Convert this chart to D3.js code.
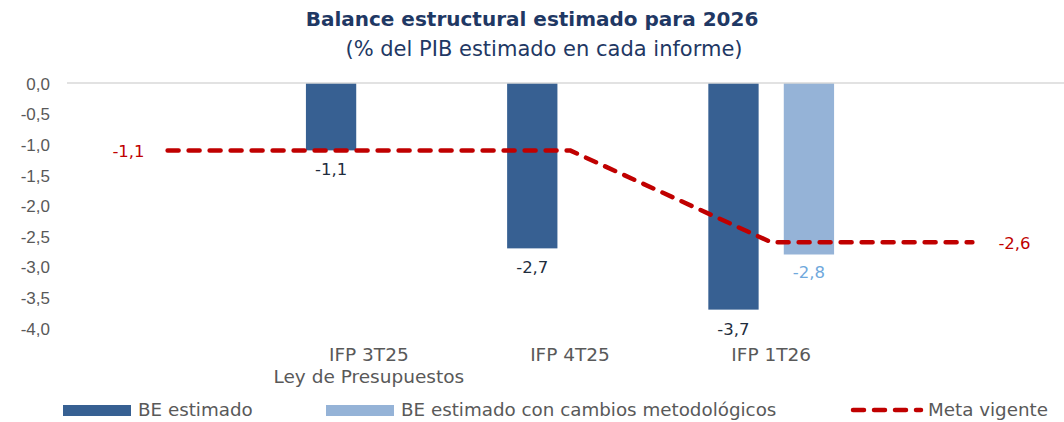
<!DOCTYPE html>
<html lang="es">
	<head>
		<meta charset="utf-8">
		<title>Balance estructural estimado para 2026</title>
		<script type="text/javascript" src="https://cdn.jsdelivr.net/npm/d3@7"></script>
		<style type="text/css">

body {
  margin: 0;
  background: #fff;
  font-family: "DejaVu Sans", Verdana, sans-serif;
}

.title {
  font-size: 20px;
  font-weight: bold;
  fill: #1f3864;
}

.subtitle {
  font-size: 21px;
  fill: #1f3864;
}

.tick_label {
  font-size: 17px;
  fill: #595959;
}

.cat_label {
  font-size: 18.5px;
  fill: #595959;
}

.legend_labels {
  font-size: 18.3px;
  fill: #595959;
}

.data_label {
  font-size: 16.5px;
}

		</style>
	</head>
	<body>
		<script type="text/javascript">

			// categories (first and last are empty slots used by the target line)
			var categories = ["", "IFP 3T25", "IFP 4T25", "IFP 1T26", ""];
			var subLabels = ["", "Ley de Presupuestos", "", "", ""];

			// series values (% del PIB)
			var beEstimado = [null, -1.1, -2.7, -3.7, null];
			var beCambios = [null, null, null, -2.8, null];
			var metaVigente = [-1.1, -1.1, -1.1, -2.6, -2.6];

			var yTicks = [0, -0.5, -1, -1.5, -2, -2.5, -3, -3.5, -4];

			var seriesNames = ["BE estimado", "BE estimado con cambios metodológicos", "Meta vigente"];

			var colors_codes = {
				"be": "#376092",
				"bem": "#95b3d7",
				"meta": "#c00000"
			};

			var W = 1064, H = 422;

			var locale = d3.formatLocale({decimal: ",", thousands: ".", grouping: [3], currency: ["", ""], minus: "-"});
			var fmt = locale.format(".1f");

			var svg = d3.select("body")
				.append("svg")
					.attr("width", W)
					.attr("height", H);

			// scales
			var xScale = d3.scaleBand()
				.domain(d3.range(categories.length))
				.range([67, 1073])
				.padding(0);

			var xInner = d3.scaleBand()
				.domain(["be", "bem"])
				.range([0, xScale.bandwidth()])
				.paddingInner(1 / 3)
				.paddingOuter(0.5);

			var yScale = d3.scaleLinear()
				.domain([0, -4])
				.range([83, 328]);

			// title
			svg.append("text")
				.attr("class", "title")
				.attr("x", 532)
				.attr("y", 26)
				.attr("text-anchor", "middle")
				.text("Balance estructural estimado para 2026");

			svg.append("text")
				.attr("class", "subtitle")
				.attr("x", 544)
				.attr("y", 56)
				.attr("text-anchor", "middle")
				.text("(% del PIB estimado en cada informe)");

			// y axis labels (no axis line, only labels)
			var yAxis = d3.axisLeft(yScale)
				.tickValues(yTicks)
				.tickSize(0)
				.tickPadding(0)
				.tickFormat(fmt);

			var gy = svg.append("g")
				.attr("transform", "translate(50,0)")
				.call(yAxis);
			gy.select(".domain").remove();
			gy.selectAll("text")
				.attr("class", "tick_label")
				.attr("font-family", null)
				.attr("font-size", null)
				.attr("fill", null)
				.attr("dy", "0.36em");

			// bars
			var barData = [];
			categories.forEach(function(c, i) {
				if (beEstimado[i] !== null) barData.push({i: i, key: "be", v: beEstimado[i]});
				if (beCambios[i] !== null) barData.push({i: i, key: "bem", v: beCambios[i]});
			});

			svg.selectAll(".bar")
				.data(barData)
				.enter()
				.append("rect")
				.attr("class", "bar")
				.attr("x", function(d) { return xScale(d.i) + xInner(d.key); })
				.attr("y", yScale(0))
				.attr("width", xInner.bandwidth())
				.attr("height", function(d) { return yScale(d.v) - yScale(0); })
				.style("fill", function(d) { return colors_codes[d.key]; });

			// zero line
			svg.append("line")
				.attr("x1", 67)
				.attr("x2", W)
				.attr("y1", yScale(0))
				.attr("y2", yScale(0))
				.style("stroke", "#d9d9d9")
				.style("stroke-width", 1.5);

			// bar labels
			svg.selectAll(".bar_label")
				.data(barData)
				.enter()
				.append("text")
				.attr("class", "data_label")
				.attr("x", function(d) { return xScale(d.i) + xInner(d.key) + xInner.bandwidth() / 2; })
				.attr("y", function(d) { return yScale(d.v) + (d.key === "be" ? 25 : 23); })
				.attr("text-anchor", "middle")
				.style("fill", function(d) { return d.key === "be" ? "#1f2d3d" : "#6fa8dc"; })
				.text(function(d) { return fmt(d.v); });

			// target line
			var line = d3.line()
				.x(function(d, i) { return xScale(i) + xScale.bandwidth() / 2; })
				.y(function(d) { return yScale(d); });

			svg.append("path")
				.datum(metaVigente)
				.attr("d", line)
				.style("fill", "none")
				.style("stroke", colors_codes.meta)
				.style("stroke-width", 4.5)
				.style("stroke-linecap", "round")
				.style("stroke-linejoin", "round")
				.style("stroke-dasharray", "11,10");

			// line labels at both ends
			var last = metaVigente.length - 1;
			svg.append("text")
				.attr("class", "data_label")
				.attr("x", xScale(0) + xScale.bandwidth() / 2 - 23)
				.attr("y", yScale(metaVigente[0]) + 7)
				.attr("text-anchor", "end")
				.style("fill", colors_codes.meta)
				.text(fmt(metaVigente[0]));

			svg.append("text")
				.attr("class", "data_label")
				.attr("x", xScale(last) + xScale.bandwidth() / 2 + 26)
				.attr("y", yScale(metaVigente[last]) + 7)
				.attr("text-anchor", "start")
				.style("fill", colors_codes.meta)
				.text(fmt(metaVigente[last]));

			// category labels
			svg.selectAll(".cat_label")
				.data(categories)
				.enter()
				.append("text")
				.attr("class", "cat_label")
				.attr("x", function(d, i) { return xScale(i) + xScale.bandwidth() / 2; })
				.attr("y", 361)
				.attr("text-anchor", "middle")
				.text(function(d) { return d; });

			svg.selectAll(".sub_label")
				.data(subLabels)
				.enter()
				.append("text")
				.attr("class", "cat_label")
				.attr("x", function(d, i) { return xScale(i) + xScale.bandwidth() / 2; })
				.attr("y", 383)
				.attr("text-anchor", "middle")
				.text(function(d) { return d; });

			// legend
			var legend_y = 410;
			var legend_items = [
				{x: 63, key: "be"},
				{x: 326, key: "bem"},
				{x: 851, key: "meta"}
			];

			legend_items.forEach(function(item, i) {
				if (item.key === "meta") {
					svg.append("line")
						.attr("x1", item.x + 2)
						.attr("x2", item.x + 70)
						.attr("y1", legend_y)
						.attr("y2", legend_y)
						.style("stroke", colors_codes.meta)
						.style("stroke-width", 4.5)
						.style("stroke-linecap", "round")
						.style("stroke-dasharray", "11,10");
					svg.append("text")
						.attr("class", "legend_labels")
						.attr("x", item.x + 77)
						.attr("y", legend_y + 6)
						.text(seriesNames[i]);
				} else {
					svg.append("rect")
						.attr("x", item.x)
						.attr("y", legend_y - 5)
						.attr("width", 68)
						.attr("height", 11)
						.style("fill", colors_codes[item.key]);
					svg.append("text")
						.attr("class", "legend_labels")
						.attr("x", item.x + 75)
						.attr("y", legend_y + 6)
						.text(seriesNames[i]);
				}
			});

		</script>
	</body>
</html>
